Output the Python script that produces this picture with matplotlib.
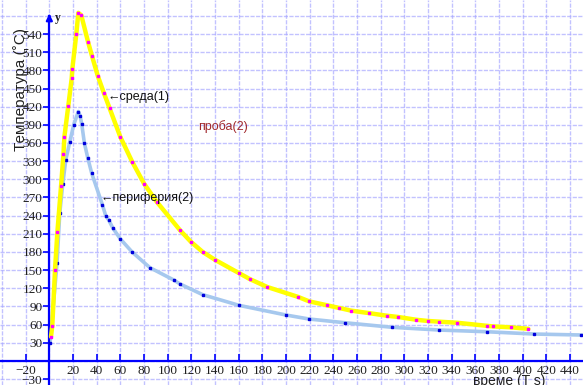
import numpy as np
import matplotlib
matplotlib.use('Agg')
import matplotlib.pyplot as plt

# environment (1) - yellow curve
sreda_x = [1.4, 2.5, 4.8, 6.8, 9.9, 11.9, 12.7, 16, 18.9, 19.4, 22.8, 24.5, 27, 32.7, 36, 40.9,
           46, 51, 60, 70, 80, 90.7, 110.4, 119.5, 129.6, 140, 160.3, 169.6, 184.3, 210.4,
           219.5, 235, 245, 255.2, 270, 285, 295, 310, 319.8, 329.6, 344.8, 369.6, 374.7,
           389.9, 404.8]
sreda_y = [40, 58, 151, 213, 289, 341, 370, 421, 467, 482, 540, 575, 571, 527, 504, 471,
           443, 417, 370, 329, 293, 263, 216, 197, 180, 167, 145, 135, 122, 105.6,
           98.4, 91.8, 87.4, 83, 79, 74.7, 72.5, 68, 66, 64.8, 63, 58, 57,
           55.5, 53]

# periphery (2) - light blue curve
perif_x = [0.6, 6.5, 8.8, 11.3, 13.9, 17.2, 20.6, 24.5, 26, 27.4, 29.6, 32.4, 35.8, 44.8,
           47.8, 50.1, 53.8, 60, 69.8, 85, 105.2, 110.5, 129.6, 160.3, 200, 219.5, 249.6,
           289.9, 329.6, 369.6, 409.6, 449, 470]
perif_y = [30, 162, 244, 292, 332, 361, 390, 412, 405, 391, 360, 336, 310, 258,
           239, 233, 219, 201.5, 180.2, 154, 133.6, 127, 109.4, 91.8, 75.8, 69.2, 63.1,
           55.5, 51, 48.2, 44.4, 42.8, 42]

x_ticks = [-20] + list(range(20, 441, 20))
y_ticks = [-30] + list(range(30, 541, 30))

fig = plt.figure(figsize=(5.83, 3.85), dpi=100)
ax = fig.add_axes([0, 0, 1, 1])
ax.set_xlim(-41.7, 451)
ax.set_ylim(-39.8, 596.2)

# grid
for gx in range(-40, 451, 20):
    ax.axvline(gx, color='#a8a8ff', lw=1.0, ls=(0, (3, 1)), alpha=0.7, zorder=0)
for gy in range(-30, 571, 30):
    ax.axhline(gy, color='#a8a8ff', lw=1.0, ls=(0, (3, 1)), alpha=0.7, zorder=0)

ax.plot(perif_x, perif_y, color='#a6c8ee', lw=2.6, zorder=2, solid_capstyle='round')
ax.plot(perif_x, perif_y, ls='none', marker='s', ms=1.6, color='#0000dd', zorder=3)
ax.plot(sreda_x, sreda_y, color='#ffff00', lw=3.2, zorder=4, solid_capstyle='round')
ax.plot(sreda_x, sreda_y, ls='none', marker='s', ms=1.6, color='#ff00ff', zorder=5)

# axes through origin
for s in ['top', 'right']:
    ax.spines[s].set_visible(False)
ax.spines['left'].set_position(('data', 0))
ax.spines['bottom'].set_position(('data', 0))
ax.spines['left'].set_color('#0000ff')
ax.spines['bottom'].set_color('#0000ff')
ax.spines['left'].set_linewidth(1.6)
ax.spines['bottom'].set_linewidth(1.6)
ax.spines['left'].set_bounds(-39.8, 570)
ax.annotate('', xy=(0, 578), xytext=(0, 562),
            arrowprops=dict(arrowstyle='-|>', color='#0000ff', lw=1.6, mutation_scale=9))

ax.set_xticks(x_ticks)
ax.set_yticks(y_ticks)
ax.tick_params(axis='x', direction='in', length=5, width=1.2, color='#0000ff', pad=3,
               labelsize=9.5)
ax.tick_params(axis='y', direction='out', length=4, width=1.2, color='#0000ff', pad=1,
               labelsize=9.5)
for lab in ax.get_xticklabels() + ax.get_yticklabels():
    lab.set_fontfamily('Liberation Serif')
    lab.set_color('#202020')

ax.text(7.4, 566, 'y', fontsize=8.5, fontfamily='Liberation Serif', fontweight='bold',
        ha='center', va='center', color='#202020')
ax.text(-24.5, 448, 'Температура (˚C)', rotation=90, fontsize=11,
        fontfamily='Liberation Sans', ha='center', va='center', color='#202020', zorder=6)
ax.text(48.8, 436, '←среда(1)', fontsize=9, fontfamily='Liberation Sans',
        ha='left', va='center', color='#101010', zorder=6)
ax.text(42.9, 269, '←периферия(2)', fontsize=9, fontfamily='Liberation Sans',
        ha='left', va='center', color='#101010', zorder=6)
ax.text(125.6, 386.6, 'проба(2)', fontsize=9, fontfamily='Liberation Sans',
        ha='left', va='center', color='#a0282d', zorder=6)
ax.text(389, -33, 'време (T s)', fontsize=10, fontfamily='Liberation Sans',
        ha='center', va='center', color='#202020', zorder=6)

fig.savefig('out.png', dpi=100)
